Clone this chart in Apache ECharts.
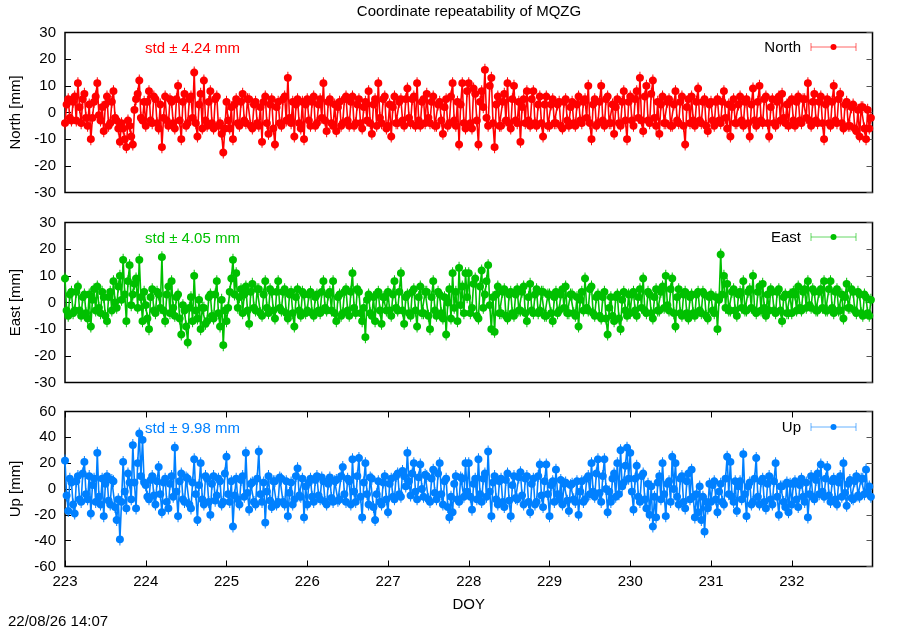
<!DOCTYPE html>
<html>
<head>
<meta charset="utf-8">
<script src="https://cdn.jsdelivr.net/npm/echarts@6/dist/echarts.min.js"></script>
<style>
html,body{margin:0;padding:0;background:#fff;}
#chart{width:900px;height:630px;}
</style>
</head>
<body>
<div id="chart"></div>
<script>
// Sampling: first epoch and spacing (DOY)
const START_DOY = 223;
const STEP_DOY = 0.02;

// North residuals [mm], 50 per day, DOY 223..232
const northVals = [
  -4,3,5,-2,-3,4,6,-3,11,2,-4,5,7,-2,-5,3,-10,-2,4,6,11,-1,-3,2,-7,3,6,-5,-4,4,8,-2,-3,-6,-11,-4,-6,-10,-13,-3,-5,-9,-12,1,5,7,12,-2,-3,4,
  -5,4,8,-3,-4,6,5,-4,-6,3,-13,-2,6,-3,-5,5,4,-4,-6,5,10,-3,-10,4,7,-5,-4,5,6,-2,15,-4,-9,3,7,-6,12,-3,-5,4,8,-4,-6,5,6,-5,-4,-8,-15,-6,
  4,-3,-6,2,-10,3,5,-4,-5,4,7,-3,-4,5,5,-5,-6,3,4,-4,-5,2,-11,4,6,-4,-8,3,5,-6,-12,2,4,-4,-5,5,6,-3,13,-2,-4,4,-9,3,5,-4,-6,4,-10,3,
  5,-3,-5,4,6,-5,-4,3,5,-2,11,-3,-7,4,5,-4,-5,3,-7,2,4,-5,-4,5,6,-3,-5,4,6,-5,-4,3,5,-4,-6,2,4,-3,8,-4,-8,3,5,-5,11,-2,-4,5,6,-6,
  -5,3,-9,2,6,-4,-4,4,5,-3,-5,5,9,-2,-4,5,6,-5,11,-3,-5,4,5,-4,7,-2,-4,4,6,-5,-5,3,4,-3,-8,2,5,-5,-4,6,11,-3,-5,4,-12,3,11,-4,-6,8,
  11,-4,-6,9,7,-3,-12,4,8,2,16,-2,-5,10,13,-4,-13,3,6,-5,-5,4,7,-3,11,-4,-6,5,10,-3,-4,4,-11,2,5,-4,8,-3,-5,5,8,-4,-5,3,6,-4,-9,3,6,-5,
  -5,3,5,-4,-4,3,4,-5,-6,4,5,-3,-5,2,4,-4,-5,3,6,-3,-4,4,5,-2,10,-4,-10,3,5,-5,-4,4,10,-3,-5,5,6,-4,-4,3,-8,2,5,-4,-5,4,8,-3,-10,4,
  6,-3,-5,5,8,-2,13,-3,-7,6,10,-3,-4,7,12,-2,-5,4,-8,3,6,-4,-4,4,5,-5,-5,3,8,-3,-4,4,6,-5,-12,2,5,-4,6,-3,-5,4,9,-3,-4,4,5,-5,-7,3,
  4,-3,-5,4,5,-3,-4,4,8,-2,-6,3,-9,2,5,-4,-4,3,6,-3,-5,4,5,-4,-9,3,9,-3,-5,4,10,-3,-4,5,6,-4,-9,2,5,-4,-5,4,6,-3,7,-2,-4,3,-5,4,
  5,-3,-5,4,6,-3,-4,5,5,-2,11,-3,-5,4,7,-3,-4,4,6,-4,-10,3,5,-4,-5,4,10,-3,-4,5,7,-4,-6,3,4,-5,-5,2,3,-6,-7,1,-9,2,2,-6,-10,1,-6,-2
];

// East residuals [mm]
const eastVals = [
  9,-3,-5,3,4,-4,-3,4,6,-3,-5,2,3,-4,-6,3,-9,1,5,-3,6,-2,-4,4,2,-5,-7,2,4,-3,8,0,-2,6,10,1,16,3,-7,8,14,-1,3,7,9,-2,16,2,-7,4,
  -1,-6,-10,2,5,-3,-4,4,3,-2,17,-3,-7,3,6,-4,8,-2,-5,2,3,-6,-12,-1,-3,-9,-15,-2,2,-7,10,-3,-6,1,-10,-2,-2,-8,-7,2,3,-5,-6,3,8,-4,-9,1,-16,-3,
  -7,-2,4,9,16,3,11,-2,2,5,-4,3,6,-3,-8,4,7,-2,-3,5,5,-4,-5,3,8,-2,-4,5,4,-3,-6,4,8,-2,-3,4,5,-4,-6,3,4,-4,-9,2,5,-3,-5,4,3,-4,
  -3,3,4,-4,-5,2,3,-3,-4,4,8,-2,-3,3,4,-3,8,-4,-7,2,3,-5,-4,4,5,-3,-5,4,11,-2,-4,5,4,-4,-7,-2,-13,1,3,-4,-5,2,-7,3,4,-3,-8,2,2,-3,
  4,-3,-5,3,8,-2,-3,4,11,-3,-8,2,3,-4,-5,4,5,-3,-9,2,6,-4,-4,4,4,-5,-10,2,8,-3,-5,4,3,-4,-6,2,-12,0,5,-6,11,-2,4,-7,13,-1,6,-4,11,2,
  11,-4,-2,7,9,-5,-6,6,12,-2,3,8,14,-1,-10,2,-11,3,6,-4,-4,4,5,-5,-6,3,4,-4,-5,3,5,-3,-3,4,6,-4,-7,2,7,-3,-4,3,5,-4,-3,4,4,-5,-5,3,
  3,-4,-7,2,4,-4,-3,3,5,-2,6,-4,-4,3,3,-4,-5,2,-9,1,4,-3,9,-2,-3,5,6,-4,-5,2,3,-5,-6,2,4,-6,-12,-2,2,-5,-7,2,3,-6,-10,1,4,-3,-5,3,
  -4,3,4,-3,-5,2,5,-2,9,-3,-4,4,3,-4,-6,2,5,-3,-3,4,6,-2,10,-1,-3,5,9,-4,-9,2,5,-4,-5,3,4,-4,-6,2,3,-4,-5,3,4,-3,-4,4,3,-5,-6,2,
  3,-3,-4,2,-10,1,18,3,10,-2,7,-3,-3,4,5,-3,-5,3,4,-2,8,-3,-3,4,5,-2,10,-3,-4,4,6,-3,7,-2,-5,3,-3,5,4,-3,-4,4,5,-3,-7,2,3,-4,-4,3,
  -4,4,3,-3,6,-2,-3,4,5,-2,8,-1,-2,5,4,-3,-3,4,5,-2,8,-3,-3,5,8,-2,-4,4,5,-3,-3,3,-6,2,7,-2,-2,5,4,-3,-4,4,3,-4,-5,3,2,-4,-5,1
];

// Up residuals [mm]
const upVals = [
  22,-5,-17,8,5,-12,-19,6,10,-8,-10,12,21,-4,-8,10,-19,3,8,-10,28,-6,-12,8,-21,4,10,-9,-12,7,6,-14,-24,-8,-39,-10,21,-2,-15,12,5,-8,34,5,-15,20,43,10,38,5,
  3,-6,-8,7,10,-5,-12,6,17,-4,-18,5,8,-10,-15,4,10,-6,32,-2,-21,6,12,-8,-10,9,8,-12,-15,5,23,-4,-24,3,20,-8,-12,10,8,-10,-20,4,10,-9,-5,8,6,-12,-10,12,
  25,-4,-10,6,-29,-5,8,-8,-12,7,10,-6,28,-3,-16,4,5,-10,-12,8,29,-4,-10,5,-26,-2,10,-9,-14,6,6,-12,-10,9,8,-10,-12,6,-21,-3,5,-12,-8,10,16,-5,-6,8,-22,2,
  -12,5,8,-6,-10,7,10,-5,-8,9,6,-10,-12,4,9,-7,-10,6,7,-9,-8,10,17,-4,-10,8,6,-12,23,-2,-10,10,24,-6,-22,5,20,-4,-12,9,8,-14,-24,-4,6,-10,-12,5,10,-8,
  -18,4,8,-6,-8,10,12,-4,-6,14,10,2,28,6,-5,12,20,-2,-8,9,19,0,-6,11,10,-8,-10,8,15,-3,-8,12,20,-4,-12,6,8,-14,-22,-6,-18,4,10,-8,-10,9,8,-6,20,-2,
  20,-6,-16,4,8,-8,23,-4,-10,8,12,-6,29,-2,-21,5,10,-8,-12,6,8,-10,-14,7,12,-9,-21,3,10,-7,-8,9,13,-5,-12,8,10,-10,-18,4,8,-12,-10,10,19,-5,-14,6,19,-4,
  -21,3,6,-10,15,-4,-8,7,-12,4,5,-9,-17,3,4,-8,-10,6,-20,-2,6,-10,-8,8,10,-4,20,-2,-6,12,23,-3,-10,10,23,0,-18,-2,-10,8,12,-6,20,-4,30,2,5,18,32,8,
  28,-2,-16,8,18,-6,-10,10,12,-8,-15,4,-20,2,-29,-6,-22,5,10,-8,20,-4,-21,4,6,-10,25,0,20,-6,-12,8,10,-10,-15,6,12,-8,15,-6,-22,-4,-18,2,-24,-6,-33,-10,-15,4,
  -10,3,6,-8,-18,-2,4,-10,-12,8,25,-4,21,-6,-10,6,-17,2,6,-8,27,-4,-21,2,5,-12,-10,8,24,-6,-12,6,8,-10,-15,4,10,-8,-12,6,20,-6,-20,2,2,-10,-14,5,-18,4,
  -12,4,6,-8,-14,3,8,-6,-10,5,-22,-4,10,-6,-8,7,12,-4,19,-2,-6,8,17,-5,-10,6,8,-8,-12,5,10,-6,20,-3,-13,4,7,-7,-8,6,10,-5,-6,8,8,-4,15,-2,2,-6
];

const seriesNames = ['North', 'East', 'Up'];
const stdTexts = ['std \u00b1 4.24 mm', 'std \u00b1 4.05 mm', 'std \u00b1 9.98 mm'];
const yLimits = [[-30, 30, 10], [-30, 30, 10], [-60, 60, 20]];
const colors = ['#ff0000', '#00c000', '#0080ff'];

const FONT = 'Liberation Sans, Arial, Helvetica, sans-serif';
const FS = 15;

function toPairs(vals) {
  return vals.map((v, i) => [+(START_DOY + i * STEP_DOY).toFixed(2), v]);
}
const allVals = [northVals, eastVals, upVals];

const grids = [
  {left: 64.5, right: 27.5, top: 32.5, height: 160},
  {left: 64.5, right: 27.5, top: 222.5, height: 160},
  {left: 64.5, right: 27.5, top: 411.5, height: 155}
].map(g => Object.assign(g, {show: true, borderColor: '#000', borderWidth: 1.5, backgroundColor: 'transparent'}));

const xAxes = [];
const yAxes = [];
for (let i = 0; i < 3; i++) {
  const bottom = i === 2;
  xAxes.push({
    type: 'value', gridIndex: i, min: 223, max: 233, interval: 1, position: 'bottom',
    axisLine: {show: false, onZero: false},
    axisTick: {show: bottom, inside: true, length: 6, lineStyle: {color: '#000', width: 1}},
    axisLabel: {show: bottom, color: '#000', fontFamily: FONT, fontSize: FS, margin: 8,
      showMaxLabel: false},
    splitLine: {show: false},
    name: bottom ? 'DOY' : '', nameLocation: 'middle', nameGap: 31,
    nameTextStyle: {color: '#000', fontFamily: FONT, fontSize: FS}
  });
  if (bottom) {
    xAxes.push({
      type: 'value', gridIndex: i, min: 223, max: 233, interval: 1, position: 'top',
      axisLine: {show: false, onZero: false},
      axisTick: {show: true, inside: true, length: 6, lineStyle: {color: '#000', width: 1}},
      axisLabel: {show: false}, splitLine: {show: false}
    });
  }
  const [mn, mx, iv] = yLimits[i];
  yAxes.push({
    type: 'value', gridIndex: i, min: mn, max: mx, interval: iv, position: 'left',
    axisLine: {show: false, onZero: false},
    axisTick: {show: true, inside: true, length: 6, lineStyle: {color: '#000', width: 1}},
    axisLabel: {show: true, color: '#000', fontFamily: FONT, fontSize: FS, margin: 9},
    splitLine: {show: false},
    name: seriesNames[i] + ' [mm]', nameLocation: 'middle', nameGap: 42, nameRotate: 90,
    nameTextStyle: {color: '#000', fontFamily: FONT, fontSize: FS}
  });
  yAxes.push({
    type: 'value', gridIndex: i, min: mn, max: mx, interval: iv, position: 'right',
    axisLine: {show: false, onZero: false},
    axisTick: {show: true, inside: true, length: 6, lineStyle: {color: '#555', width: 1}},
    axisLabel: {show: false}, splitLine: {show: false}
  });
}

// round dot with short vertical error whiskers
const markerPath = 'path://M3.5,0L4.5,0L4.5,2.1L5.6,2.3L7,3.2L7.8,4.5L8,6L7.8,7.5L7,8.8L5.6,9.7L4.5,9.9L4.5,12L3.5,12L3.5,9.9L2.4,9.7L1,8.8L0.2,7.5L0,6L0.2,4.5L1,3.2L2.4,2.3L3.5,2.1Z';

const series = [];
const xIndexOf = [0, 1, 2];
const yIndexOf = [0, 2, 4];
for (let i = 0; i < 3; i++) {
  series.push({
    type: 'line', name: seriesNames[i], xAxisIndex: xIndexOf[i], yAxisIndex: yIndexOf[i],
    data: toPairs(allVals[i]),
    symbol: markerPath, symbolSize: [8, 12], showAllSymbol: true, symbolKeepAspect: false,
    itemStyle: {color: colors[i]},
    lineStyle: {color: colors[i], width: 1.6},
    animation: false, silent: true, z: 2
  });
}

// text & legend decorations
const panelTextY = [48.5, 238.5, 428.5];
const graphic = [
  {type: 'text', x: 469, y: 12, style: {text: 'Coordinate repeatability of MQZG', fill: '#000', font: FS + 'px ' + FONT, textAlign: 'center', textVerticalAlign: 'middle'}},
  {type: 'text', x: 8, y: 622, style: {text: '22/08/26 14:07', fill: '#000', font: FS + 'px ' + FONT, textVerticalAlign: 'middle'}}
];
for (let i = 0; i < 3; i++) {
  const yc = panelTextY[i];
  graphic.push({type: 'text', x: 145, y: yc, style: {text: stdTexts[i], fill: colors[i], font: FS + 'px ' + FONT, textVerticalAlign: 'middle'}});
  graphic.push({type: 'text', x: 801, y: yc - 1, style: {text: seriesNames[i], fill: '#000', font: FS + 'px ' + FONT, textAlign: 'right', textVerticalAlign: 'middle'}});
  const lc = colors[i];
  const ly = yc - 1.5;
  graphic.push({type: 'line', shape: {x1: 811, y1: ly, x2: 856, y2: ly}, style: {stroke: lc, lineWidth: 1, opacity: 0.6}});
  graphic.push({type: 'line', shape: {x1: 811, y1: ly - 4, x2: 811, y2: ly + 4}, style: {stroke: lc, lineWidth: 1, opacity: 0.6}});
  graphic.push({type: 'line', shape: {x1: 856, y1: ly - 4, x2: 856, y2: ly + 4}, style: {stroke: lc, lineWidth: 1, opacity: 0.6}});
  graphic.push({type: 'circle', shape: {cx: 833.5, cy: ly, r: 3}, style: {fill: lc}});
}

const chart = echarts.init(document.getElementById('chart'), null, {renderer: 'canvas'});
chart.setOption({
  backgroundColor: '#fff',
  animation: false,
  grid: grids,
  xAxis: xAxes,
  yAxis: yAxes,
  series: series,
  graphic: graphic
});
</script>
</body>
</html>
